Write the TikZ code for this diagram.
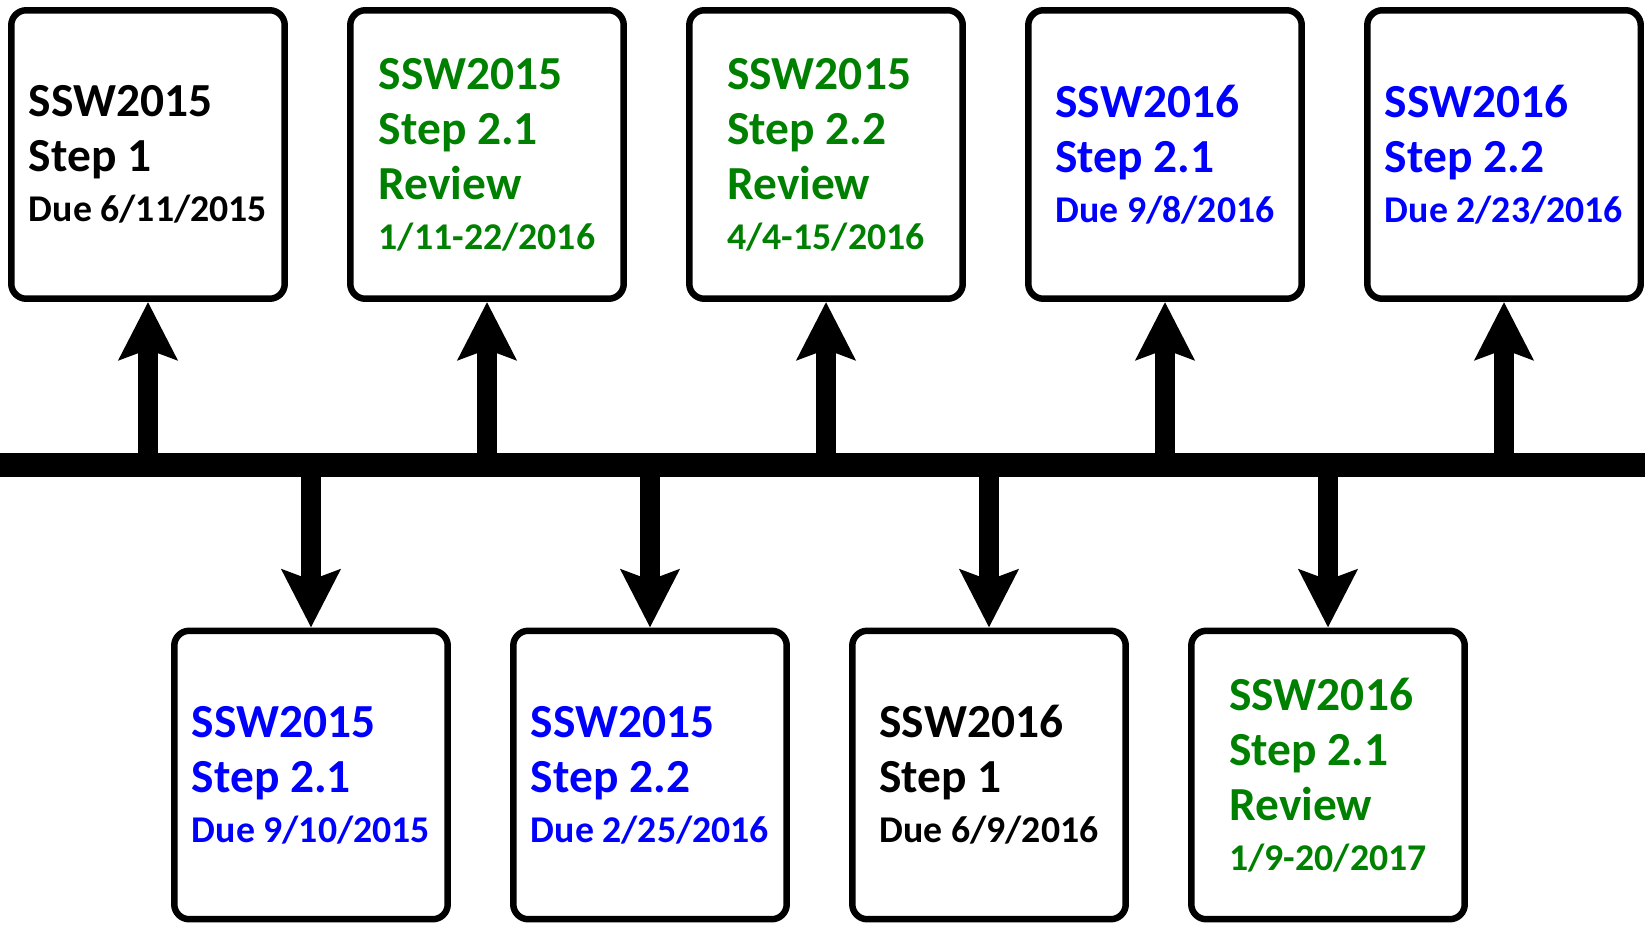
\documentclass[tikz,border=0pt]{standalone}
\usepackage{fontspec}
\setmainfont{Carlito}
\usepackage{xcolor}
\usepackage{tikz}
\usetikzlibrary{arrows.meta}
\definecolor{revgreen}{RGB}{0,128,0}
\definecolor{dueblue}{RGB}{0,0,255}
\newcommand{\datefont}{\fontsize{21.5pt}{25pt}\selectfont}
\tikzstyle{every node}=[font=\bfseries\fontsize{27pt}{31.3pt}\selectfont]
\tikzstyle{box}=[draw=black,line width=0.13cm,rounded corners=0.3cm,minimum width=5.47cm,minimum height=5.77cm,align=left,inner sep=0pt]
\tikzstyle{arrow}=[line width=0.4cm,-{Stealth[length=1.15cm,width=1.15cm,inset=0.2cm]}]

\begin{document}
\begin{tikzpicture}[x=0.02cm,y=-0.02cm]
        \useasboundingbox (0,0) rectangle (1645,926);

        \coordinate (L) at (0,465);
        \coordinate (R) at (1645,465);

        % boxes above the line
        \node [box] (up1) at (148,154.5) {SSW2015\\Step 1\\[-3pt]\datefont Due 6/11/2015};
        \node [box,text=revgreen] (up2) at (487,154.5) {SSW2015\\Step 2.1\\Review\\[-3pt]\datefont 1/11-22/2016};
        \node [box,text=revgreen] (up3) at (826,154.5) {SSW2015\\Step 2.2\\Review\\[-3pt]\datefont 4/4-15/2016};
        \node [box,text=dueblue] (up4) at (1165,154.5) {SSW2016\\Step 2.1\\[-3pt]\datefont Due 9/8/2016};
        \node [box,text=dueblue] (up5) at (1504,154.5) {SSW2016\\Step 2.2\\[-3pt]\datefont Due 2/23/2016};

        % boxes below the line
        \node [box,text=dueblue] (dn1) at (311,775) {SSW2015\\Step 2.1\\[-3pt]\datefont Due 9/10/2015};
        \node [box,text=dueblue] (dn2) at (650,775) {SSW2015\\Step 2.2\\[-3pt]\datefont Due 2/25/2016};
        \node [box] (dn3) at (989,775) {SSW2016\\Step 1\\[-3pt]\datefont Due 6/9/2016};
        \node [box,text=revgreen] (dn4) at (1328,775) {SSW2016\\Step 2.1\\Review\\[-3pt]\datefont 1/9-20/2017};

        \draw [line width=0.48cm] (L) -- (R);

        \foreach \b in {up1,up2,up3,up4,up5,dn1,dn2,dn3,dn4}
            \draw [arrow] (\b |- L) -- (\b);
\end{tikzpicture}
\end{document}
